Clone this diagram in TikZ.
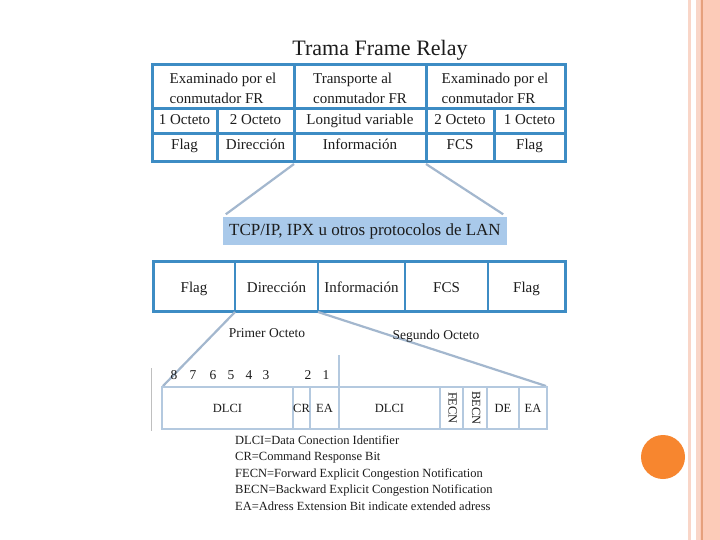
\documentclass[tikz,border=0pt]{standalone}
\usepackage{fontspec}
\setmainfont{Liberation Serif}
\usetikzlibrary{positioning,calc}
\definecolor{frblue}{HTML}{3D8CC4}
\definecolor{lanblue}{HTML}{A9C9EA}
\definecolor{bitline}{HTML}{B4C9DF}
\definecolor{linkgray}{HTML}{A3B7CE}
\definecolor{slidepink}{HTML}{FCCBB8}
\definecolor{palepink}{HTML}{F9D6C8}
\definecolor{slideline}{HTML}{E6A07C}
\definecolor{dotorange}{HTML}{F7862F}
\definecolor{ink}{HTML}{1C1C1C}

\begin{document}
\begin{tikzpicture}[x=1pt, y=-1pt,
  frame/.style={draw=frblue, line width=3pt},
  bits/.style={draw=bitline, line width=2.5pt},
  link/.style={draw=linkgray, line width=2.2pt},
  head/.style={font=\fontsize{15}{20}\selectfont, align=left, inner sep=0pt, text=ink},
  cell/.style={font=\fontsize{15}{18}\selectfont, inner sep=0pt, text height=10pt, text depth=3pt, text=ink},
  bitcell/.style={font=\fontsize{12.5}{14}\selectfont, inner sep=0pt, text height=8.5pt, text depth=2.5pt, text=ink},
  note/.style={font=\fontsize{12.5}{16.5}\selectfont, align=left, inner sep=0pt, text=ink}
]
\useasboundingbox (0,0) rectangle (720,540);
\fill[white] (0,0) rectangle (720,540);

% slide decoration
\fill[palepink] (688,0) rectangle (691,540);
\fill[slidepink] (696,0) rectangle (720,540);
\fill[palepink] (696,0) rectangle (700,540);
\draw[slideline, line width=1.2pt] (702,0) -- (702,540);
\fill[dotorange] (663,457) circle (22);

\node[font=\fontsize{22}{26}\selectfont, text=ink] (title) at (380,50) {Trama Frame Relay};

% frame relay frame
\draw[frame] (152,65) rectangle (565,162);
\draw[frame] (152,109) -- (565,109) (152,134) -- (565,134)
  (294,65) -- (294,162) (426,65) -- (426,162)
  (217,109) -- (217,162) (494,109) -- (494,162);

\node[head] (exA) at (223,88) {Examinado por el\\conmutador FR};
\node[head] (trans) at (360,88) {Transporte al\\conmutador FR};
\node[head] (exB) at (495,88) {Examinado por el\\conmutador FR};

\foreach \x/\txt/\nm in {184.5/1 Octeto/oA, 255.5/2 Octeto/oB, 360/Longitud variable/oC,
                         460/2 Octeto/oD, 529.5/1 Octeto/oE}
  \node[cell] (\nm) at (\x,121.5) {\txt};
\foreach \x/\txt/\nm in {184.5/Flag/fA, 255.5/Dirección/fB, 360/Información/fC,
                         460/FCS/fD, 529.5/Flag/fE}
  \node[cell] (\nm) at (\x,146.5) {\txt};

% LAN payload
\node[fill=lanblue, minimum width=284pt, minimum height=27pt, inner sep=0pt,
      font=\fontsize{17}{20}\selectfont, text=ink] (lan) at (365,231) {TCP/IP, IPX u otros protocolos de LAN};
\coordinate (infoL) at (294,164);
\coordinate (infoR) at (426,164);
\draw[link] (infoL) -- ($(lan.north west)+(3,-3)$);
\draw[link] (infoR) -- ($(lan.north east)+(-4,-3)$);

% second frame
\draw[frame] (153,261) rectangle (565,311);
\draw[frame, line width=2.2pt] (235,261) -- (235,311) (318,261) -- (318,311)
  (405,261) -- (405,311) (488,261) -- (488,311);
\foreach \x/\txt/\nm in {194/Flag/gA, 276.5/Dirección/gB, 361.5/Información/gC,
                         446.5/FCS/gD, 526.5/Flag/gE}
  \node[cell] (\nm) at (\x,288.5) {\txt};

% address field
\coordinate (dirL) at (235,312);
\coordinate (dirR) at (318,312);
\coordinate (bitL) at (163,386);
\coordinate (bitR) at (546,386);
\draw[link] (dirL) -- (bitL);
\draw[link] (dirR) -- (bitR);

\node[bitcell, font=\fontsize{13.5}{16}\selectfont] (first) at (267,334) {Primer Octeto};
\node[bitcell, font=\fontsize{13.5}{16}\selectfont] (second) at (436,336) {Segundo Octeto};

\foreach \x/\n in {174/8, 193/7, 213/6, 231/5, 249/4, 266/3, 308/2, 326/1}
  \node[bitcell, font=\fontsize{13.5}{16}\selectfont] (b\n) at (\x,376) {\n};

\draw[black!25, line width=1pt] (151,368) -- (151,431);
\draw[bits] (162,387) rectangle (547,429);
\draw[bits] (293,387) -- (293,429) (310,387) -- (310,429) (339,355) -- (339,429)
  (440,387) -- (440,429) (463,387) -- (463,429) (487,387) -- (487,429) (519,387) -- (519,429);

\foreach \x/\txt/\nm in {227.5/DLCI/cA, 301.5/CR/cB, 324.5/EA/cC, 389.5/DLCI/cD,
                         503/DE/cG, 533/EA/cH}
  \node[bitcell] (\nm) at (\x,409) {\txt};
\node[bitcell, rotate=-90] (cE) at (451.5,408) {FECN};
\node[bitcell, rotate=-90] (cF) at (475,408) {BECN};

\node[note, anchor=north west] (legend) at (235,435) {%
DLCI=Data Conection Identifier\\
CR=Command Response Bit\\
FECN=Forward Explicit Congestion Notification\\
BECN=Backward Explicit Congestion Notification\\
EA=Adress Extension Bit indicate extended adress};
\end{tikzpicture}
\end{document}
